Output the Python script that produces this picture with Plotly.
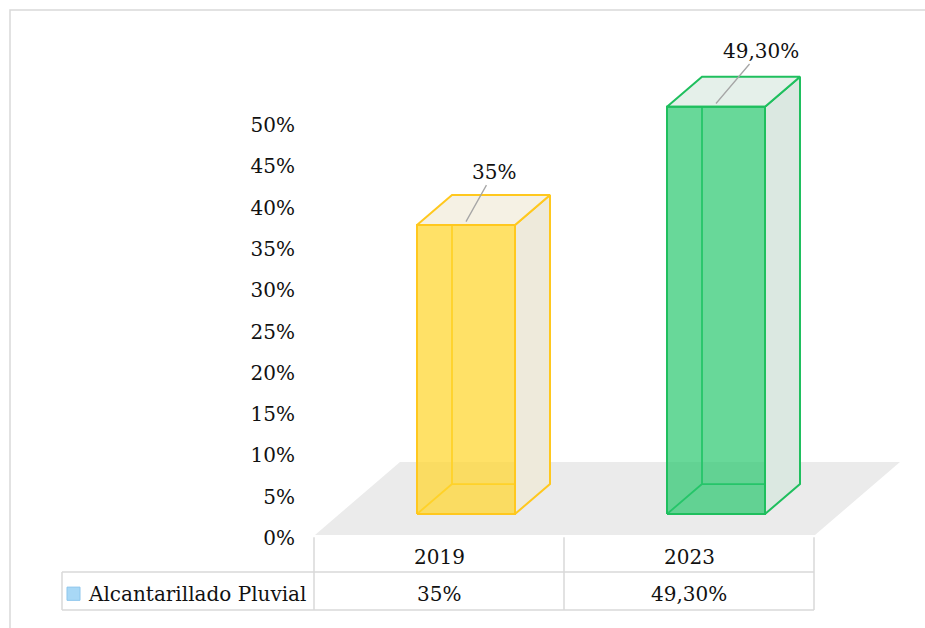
import plotly.graph_objects as go

# data
categories = ["2019", "2023"]
values = [35.0, 49.3]
value_labels = ["35%", "49,30%"]
series_name = "Alcantarillado Pluvial"
tick_values = [0, 5, 10, 15, 20, 25, 30, 35, 40, 45, 50]
tick_labels = [f"{t}%" for t in tick_values]

# styles per bar: front, top, side, edge
bar_styles = [
    dict(front="rgba(255,214,45,0.72)", top="#F5F1E4", side="#EEEADB", edge="#FFC81E"),
    dict(front="rgba(40,200,110,0.70)", top="#E5F0EA", side="#DBE8E1", edge="#1FBF5E"),
]
FONT = "DejaVu Serif"
GRID = "#D9D9D9"
TXT = dict(family=FONT, size=20, color="#111111")

# 3d geometry (axis units)
HALF_W = 0.196
DEPTH_X = 0.14
DEPTH_Y = 3.63

fig = go.Figure()


def poly(xs, ys, fill, line, width=2.0):
    fig.add_trace(go.Scatter(
        x=xs + xs[:1], y=ys + ys[:1], mode="lines", fill="toself",
        fillcolor=fill, line=dict(color=line, width=width),
        hoverinfo="skip", showlegend=False))


def seg(xs, ys, color, width=1.8):
    fig.add_trace(go.Scatter(
        x=xs, y=ys, mode="lines", line=dict(color=color, width=width),
        hoverinfo="skip", showlegend=False))


# floor
n = len(categories)
fl, fr = -0.604, (n - 1) + 0.396
fy0, fy1 = -2.54, 6.3
fshift = 0.34
poly([fl, fr, fr + fshift, fl + fshift], [fy0, fy0, fy1, fy1], "#EBEBEB", "rgba(0,0,0,0)", 0)

for i, (v, st) in enumerate(zip(values, bar_styles)):
    x0, x1 = i - HALF_W, i + HALF_W
    dx, dy = DEPTH_X, DEPTH_Y
    # hidden back edges
    seg([x0, x0 + dx, x0 + dx], [0, dy, v + dy], st["edge"])
    seg([x0 + dx, x1 + dx], [dy, dy], st["edge"])
    # side and top faces
    poly([x1, x1 + dx, x1 + dx, x1], [0, dy, v + dy, v], st["side"], st["edge"])
    poly([x0, x1, x1 + dx, x0 + dx], [v, v, v + dy, v + dy], st["top"], st["edge"])
    # front face
    poly([x0, x1, x1, x0], [0, 0, v, v], st["front"], st["edge"])

# value labels with leader lines
label_offsets = [(28, -50), (45, -53)]
for i, (v, lab) in enumerate(zip(values, value_labels)):
    ax, ay = label_offsets[i]
    fig.add_annotation(x=i, y=v + 0.4, text=lab, showarrow=True, arrowhead=0,
                       arrowwidth=1.3, arrowcolor="#A6A6A6", ax=ax, ay=ay,
                       font=TXT)

# data table below the chart
col_off = 0.608
row_top, row_mid, row_bot = -2.8, -7.02, -11.62
label_left = -1.616
shapes = []
for i in range(n + 1):
    xe = i - col_off
    shapes.append(dict(type="line", x0=xe, x1=xe, y0=row_top, y1=row_bot,
                       xref="x", yref="y", line=dict(color=GRID, width=1.5)))
shapes.append(dict(type="line", x0=label_left, x1=label_left, y0=row_mid, y1=row_bot,
                   xref="x", yref="y", line=dict(color=GRID, width=1.5)))
for yy in (row_mid, row_bot):
    shapes.append(dict(type="line", x0=label_left, x1=n - col_off, y0=yy, y1=yy,
                       xref="x", yref="y", line=dict(color=GRID, width=1.5)))
# legend key
shapes.append(dict(type="rect", x0=-1.596, x1=-1.544, y0=-10.45, y1=-8.85,
                   xref="x", yref="y", fillcolor="#A8D8F6",
                   line=dict(color="#8DC6EC", width=1)))
# chart border
shapes.append(dict(type="rect", x0=10 / 925, x1=1.02, y0=-0.02, y1=1 - 10 / 628,
                   xref="paper", yref="paper", line=dict(color=GRID, width=1.5),
                   fillcolor="rgba(0,0,0,0)"))

for i, (cat, lab) in enumerate(zip(categories, value_labels)):
    cx = i - col_off + 0.5
    fig.add_annotation(x=cx, y=-5.2, text=cat, showarrow=False, font=TXT)
    fig.add_annotation(x=cx, y=-9.69, text=lab, showarrow=False, font=TXT)
fig.add_annotation(x=-1.52, y=-9.69, text=series_name, showarrow=False,
                   xanchor="left", font=TXT)

fig.update_layout(
    width=925, height=628,
    margin=dict(l=0, r=0, t=0, b=0),
    paper_bgcolor="white", plot_bgcolor="white",
    shapes=shapes,
    showlegend=False,
    xaxis=dict(range=[-466 / 250, 459 / 250], visible=False, fixedrange=True),
    yaxis=dict(range=[-13.8, 62.23], anchor="free", position=300 / 925,
               tickvals=tick_values, ticktext=tick_labels,
               showgrid=False, zeroline=False, showline=False, ticks="",
               ticklabelshift=24, ticklabelstandoff=5, fixedrange=True,
               tickfont=TXT),
)

fig.write_html("out.html", config={"displayModeBar": False},
               post_script="document.body.style.margin='0';")
